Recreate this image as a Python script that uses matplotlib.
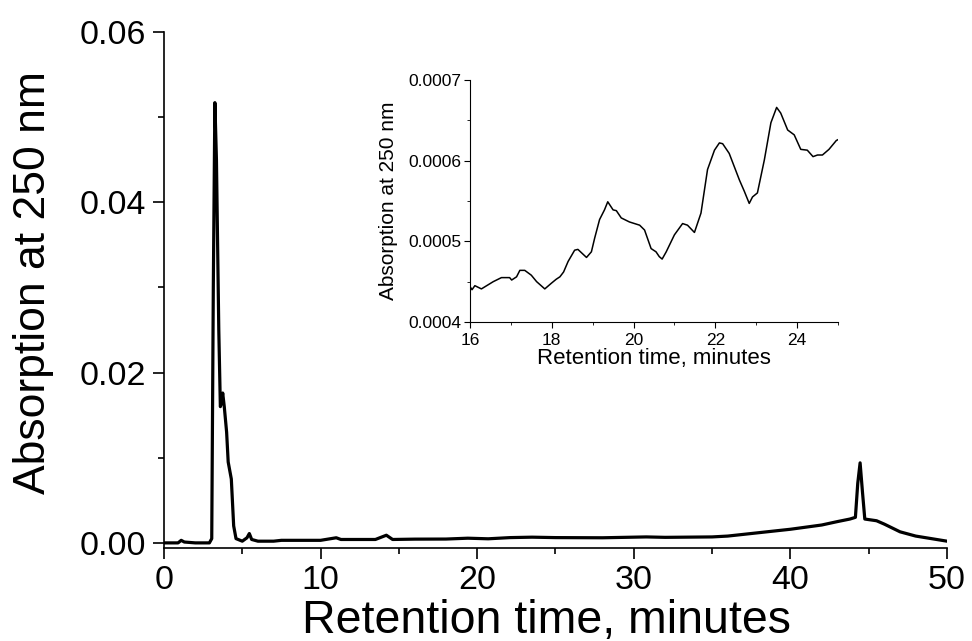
import numpy as np
import matplotlib
matplotlib.use("Agg")
import matplotlib.pyplot as plt
from matplotlib.ticker import MultipleLocator, FormatStrFormatter

plt.rcParams['font.family'] = ['Liberation Sans', 'DejaVu Sans']

# full chromatogram
t_main = [0.0, 0.9, 1.1, 1.3, 2.0, 2.9, 3.05, 3.15, 3.25, 3.35, 3.5, 3.6, 3.68, 3.75,
          3.85, 4.0, 4.1, 4.2, 4.3, 4.45, 4.6, 5.0, 5.3, 5.45, 5.6, 6.0, 7.0, 7.5,
          8.0, 9.0, 10.0, 11.0, 11.3, 12.0, 13.5, 14.2, 14.6, 16.0, 18.0, 19.4,
          20.7, 22.1, 23.5, 25.0, 28.0, 30.8, 32.0, 35.0, 36.0, 38.0, 40.0, 42.0,
          43.0, 43.8, 44.15, 44.3, 44.45, 44.6, 44.75, 45.5, 46.0, 47.0, 48.0,
          49.0, 50.0]
a_main = [0.0, 0.0, 0.0003, 0.0001, 0.0, 0.0, 0.0005, 0.030, 0.0517, 0.045, 0.025,
          0.0160, 0.0165, 0.0176, 0.0160, 0.0130, 0.0095, 0.0085, 0.0075, 0.0020,
          0.0005, 0.0002, 0.0006, 0.0011, 0.0004, 0.0002, 0.0002, 0.0003, 0.0003,
          0.0003, 0.0003, 0.0006, 0.0004, 0.0004, 0.0004, 0.0009, 0.0004, 0.00044,
          0.00045, 0.00055, 0.00048, 0.00062, 0.00067, 0.00062, 0.0006, 0.0007,
          0.00065, 0.0007, 0.0008, 0.0012, 0.0016, 0.0021, 0.0025, 0.0028, 0.0030,
          0.0070, 0.0094, 0.0060, 0.0028, 0.0026, 0.0022, 0.0013, 0.0008, 0.0005,
          0.0002]

# zoomed part 16-25 min
t_zoom = [16.0, 16.05, 16.12, 16.28, 16.57, 16.65, 16.77, 16.97, 17.02, 17.14, 17.22,
          17.34, 17.5, 17.63, 17.83, 17.99, 18.11, 18.2, 18.29, 18.4, 18.56, 18.64,
          18.85, 18.97, 19.05, 19.17, 19.29, 19.37, 19.5, 19.58, 19.7, 19.9, 20.15,
          20.27, 20.43, 20.55, 20.63, 20.7, 20.8, 21.0, 21.2, 21.32, 21.49, 21.65,
          21.81, 21.98, 22.1, 22.18, 22.34, 22.59, 22.71, 22.83, 22.91, 23.03, 23.2,
          23.36, 23.5, 23.6, 23.77, 23.93, 24.09, 24.25, 24.39, 24.5, 24.62, 24.78,
          24.96, 25.0]
a_zoom = [0.000444, 0.000440, 0.000445, 0.000441, 0.000450, 0.000452, 0.000455,
          0.000455, 0.000452, 0.000456, 0.000464, 0.000464, 0.000458, 0.000450,
          0.000441, 0.000448, 0.000453, 0.000456, 0.000462, 0.000475, 0.000489,
          0.000490, 0.000480, 0.000487, 0.000504, 0.000527, 0.000539, 0.000549,
          0.000539, 0.000538, 0.000529, 0.000524, 0.000520, 0.000514, 0.000491,
          0.000487, 0.000481, 0.000478, 0.000487, 0.000508, 0.000522, 0.000520,
          0.000511, 0.000535, 0.000589, 0.000613, 0.000622, 0.000621, 0.000609,
          0.000576, 0.000562, 0.000547, 0.000555, 0.000560, 0.000601, 0.000647,
          0.000666, 0.000659, 0.000638, 0.000632, 0.000614, 0.000613, 0.000605,
          0.000607, 0.000607, 0.000614, 0.000625, 0.000626]

fig = plt.figure(figsize=(9.72, 6.41), dpi=100)

ax = fig.add_axes([0.1687, 0.1451, 0.8056, 0.8050])
ax.plot(t_main, a_main, color='black', lw=2.3)
ax.set_xlim(0, 50)
ax.set_ylim(-0.0006, 0.06)
ax.spines['top'].set_visible(False)
ax.spines['right'].set_visible(False)
for s in ['left', 'bottom']:
    ax.spines[s].set_linewidth(1.2)
ax.xaxis.set_major_locator(MultipleLocator(10))
ax.xaxis.set_minor_locator(MultipleLocator(5))
ax.yaxis.set_major_locator(MultipleLocator(0.02))
ax.yaxis.set_minor_locator(MultipleLocator(0.01))
ax.yaxis.set_major_formatter(FormatStrFormatter('%.2f'))
ax.tick_params(which='major', direction='out', length=8, width=1.2, labelsize=24.5, pad=5)
ax.tick_params(axis='x', which='major', pad=4)
ax.tick_params(which='minor', direction='out', length=4, width=1.2)
ax.set_xlabel('Retention time, minutes', fontsize=33.5)
ax.set_ylabel('Absorption at 250 nm', fontsize=32)
ax.xaxis.set_label_coords(0.489, -0.098)
ax.yaxis.set_label_coords(-0.140, 0.515)

ins = fig.add_axes([0.4835, 0.4977, 0.3786, 0.3775])
ins.plot(t_zoom, a_zoom, color='black', lw=1.1)
ins.set_xlim(16, 25)
ins.set_ylim(0.0004, 0.0007)
ins.spines['top'].set_visible(False)
ins.spines['right'].set_visible(False)
ins.xaxis.set_major_locator(MultipleLocator(2))
ins.xaxis.set_minor_locator(MultipleLocator(1))
ins.yaxis.set_major_locator(MultipleLocator(0.0001))
ins.yaxis.set_minor_locator(MultipleLocator(0.00005))
ins.yaxis.set_major_formatter(FormatStrFormatter('%.4f'))
ins.tick_params(which='major', direction='out', length=4, labelsize=12.5, pad=2)
ins.tick_params(axis='x', which='major', pad=4)
ins.tick_params(which='minor', direction='out', length=2)
ins.set_xlabel('Retention time, minutes', fontsize=16, labelpad=0)
ins.set_ylabel('Absorption at 250 nm', fontsize=15)
ins.yaxis.set_label_coords(-0.195, 0.5)

fig.savefig('out.png', dpi=100)
